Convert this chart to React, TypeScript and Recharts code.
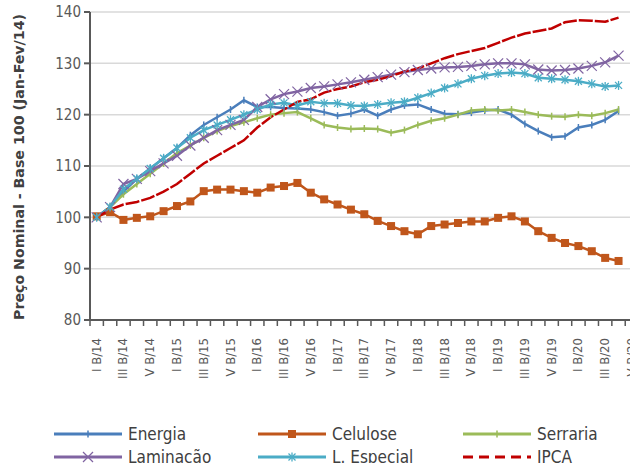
import React from 'react';
import { LineChart, Line, XAxis, YAxis, CartesianGrid } from 'recharts';

// bimestres, jan-fev/14 ... nov-dez/20
const categories = [
  'I B/14', 'II B/14', 'III B/14', 'IV B/14', 'V B/14', 'VI B/14',
  'I B/15', 'II B/15', 'III B/15', 'IV B/15', 'V B/15', 'VI B/15',
  'I B/16', 'II B/16', 'III B/16', 'IV B/16', 'V B/16', 'VI B/16',
  'I B/17', 'II B/17', 'III B/17', 'IV B/17', 'V B/17', 'VI B/17',
  'I B/18', 'II B/18', 'III B/18', 'IV B/18', 'V B/18', 'VI B/18',
  'I B/19', 'II B/19', 'III B/19', 'IV B/19', 'V B/19', 'VI B/19',
  'I B/20', 'II B/20', 'III B/20', 'IV B/20', 'V B/20', 'VI B/20',
];

const energia = [
  100, 102, 105, 107.5, 109.5, 111.5, 113.5, 116, 118, 119.5, 121, 122.8,
  121.5, 121.5, 121.3, 121.2, 121, 120.5, 119.8, 120.2, 121, 119.8, 121, 121.8,
  122, 121, 120.2, 120.1, 120.4, 120.8, 121, 120, 118.2, 116.8, 115.6, 115.8,
  117.5, 118, 119, 120.7,
];
const celulose = [
  100.2, 101, 99.5, 99.9, 100.2, 101.2, 102.2, 103.1, 105.1, 105.4, 105.4, 105.1,
  104.8, 105.8, 106.1, 106.7, 104.8, 103.5, 102.5, 101.5, 100.6, 99.3, 98.3, 97.3,
  96.7, 98.3, 98.6, 98.9, 99.2, 99.2, 99.9, 100.2, 99.2, 97.3, 96, 95,
  94.4, 93.4, 92.1, 91.5,
];
const serraria = [
  100, 102, 104.5, 106.5, 108.5, 110.5, 112.5, 114, 115.5, 116.8, 117.8, 118.5,
  119.3, 120, 120.3, 120.5, 119.3, 118, 117.5, 117.2, 117.3, 117.2, 116.5, 117,
  118, 118.8, 119.3, 120, 120.8, 121, 120.8, 121, 120.5, 120, 119.7, 119.6,
  120, 119.8, 120.3, 121,
];
const laminacao = [
  100, 102, 106.5, 107.5, 109, 110.5, 112, 114, 115.5, 117, 118, 119,
  121.5, 123, 124, 124.5, 125.2, 125.5, 125.9, 126.3, 126.8, 127.3, 127.8, 128.3,
  128.7, 129, 129.2, 129.3, 129.5, 129.8, 130, 130, 129.8, 128.8, 128.6, 128.7,
  129, 129.5, 130.2, 131.5,
];
const especial = [
  100, 102, 105.5, 107.5, 109.5, 111.5, 113.5, 115.5, 117, 118, 119, 120,
  121, 122, 122.3, 121.8, 122.5, 122.2, 122.2, 121.8, 121.7, 122, 122.3, 122.5,
  123.3, 124.2, 125.2, 126, 127, 127.6, 128, 128.2, 128, 127.2, 127, 126.8,
  126.5, 126, 125.5, 125.7,
];
const ipca = [
  100, 101.5, 102.5, 103, 103.8, 105, 106.5, 108.5, 110.5, 112, 113.5, 115,
  117.5, 119.5, 121, 122.5, 123, 124.3, 125, 125.5, 126.3, 126.8, 127.5, 128.4,
  129, 130, 131, 131.8, 132.4, 133, 134, 135, 135.8, 136.3, 136.8, 138,
  138.4, 138.3, 138.1, 138.9,
];

const yTicks = [80, 90, 100, 110, 120, 130, 140];

const data = categories.map((label, i) => ({
  idx: i,
  label,
  energia: energia[i] ?? null,
  celulose: celulose[i] ?? null,
  serraria: serraria[i] ?? null,
  laminacao: laminacao[i] ?? null,
  especial: especial[i] ?? null,
  ipca: ipca[i] ?? null,
}));

// marcas nas divisas das categorias + rótulos a cada 2 bimestres
const xTicks: number[] = [];
for (let i = 0; i <= categories.length; i++) {
  xTicks.push(i - 0.5);
  if (i < categories.length && i % 2 === 0) xTicks.push(i);
}

const C = {
  energia: '#4a7ebb',
  celulose: '#c0561b',
  serraria: '#9bbb59',
  laminacao: '#8064a2',
  especial: '#4bacc6',
  ipca: '#c00000',
  axis: '#595959',
  text: '#404040',
};

const FONT = "'Liberation Sans Narrow', 'DejaVu Sans Condensed', 'Liberation Sans', sans-serif";

const XTick = ({ x, y, payload }: any) => {
  const v = payload.value;
  if (!Number.isInteger(v)) {
    return <line x1={x} x2={x} y1={y} y2={y + 6} stroke={C.axis} strokeWidth={1.5} />;
  }
  const tx = x + 4;
  const ty = y + 18;
  return (
    <text x={tx} y={ty} transform={`rotate(-90 ${tx} ${ty})`} textAnchor="end" fontSize={13} fill={C.axis} fontFamily={FONT}>
      {categories[v]}
    </text>
  );
};

const tickDot = (color: string) => (p: any) => {
  if (p.cy == null || p.value == null) return <g key={`d-${p.index}`} />;
  return <line key={`d-${p.index}`} x1={p.cx} x2={p.cx} y1={p.cy - 3.5} y2={p.cy + 3.5} stroke={color} strokeWidth={1.5} />;
};

const squareDot = (p: any) => {
  if (p.cy == null || p.value == null) return <g key={`d-${p.index}`} />;
  return <rect key={`d-${p.index}`} x={p.cx - 4} y={p.cy - 4} width={8} height={8} fill={C.celulose} />;
};

const crossDot = (p: any) => {
  if (p.cy == null || p.value == null) return <g key={`d-${p.index}`} />;
  const s = 5;
  return (
    <g key={`d-${p.index}`} stroke={C.laminacao} strokeWidth={1.2}>
      <line x1={p.cx - s} y1={p.cy - s} x2={p.cx + s} y2={p.cy + s} />
      <line x1={p.cx - s} y1={p.cy + s} x2={p.cx + s} y2={p.cy - s} />
    </g>
  );
};

const starDot = (p: any) => {
  if (p.cy == null || p.value == null) return <g key={`d-${p.index}`} />;
  const s = 3.5;
  return (
    <g key={`d-${p.index}`} stroke={C.especial} strokeWidth={1.3}>
      <line x1={p.cx - s} y1={p.cy - s} x2={p.cx + s} y2={p.cy + s} />
      <line x1={p.cx - s} y1={p.cy + s} x2={p.cx + s} y2={p.cy - s} />
      <line x1={p.cx} y1={p.cy - s - 1} x2={p.cx} y2={p.cy + s + 1} />
    </g>
  );
};

const legendItems = [
  { name: 'Energia', color: C.energia, x: 54, y: 434, mark: 'tick' },
  { name: 'Celulose', color: C.celulose, x: 258, y: 434, mark: 'square' },
  { name: 'Serraria', color: C.serraria, x: 463, y: 434, mark: 'tick' },
  { name: 'Laminacão', color: C.laminacao, x: 54, y: 457, mark: 'cross' },
  { name: 'L. Especial', color: C.especial, x: 258, y: 457, mark: 'star' },
  { name: 'IPCA', color: C.ipca, x: 463, y: 457, mark: 'dash' },
];

export default function App() {
  return (
    <div style={{ position: 'fixed', left: 0, top: 0, width: 630, height: 463, overflow: 'hidden', background: '#fff' }}>
      <div style={{ position: 'absolute', left: 0, top: 0 }}>
        <LineChart width={652} height={400} data={data} margin={{ top: 12, right: 0, bottom: 0, left: 30 }}>
          <CartesianGrid vertical={false} stroke="#d9d9d9" strokeWidth={1.5} />
          <XAxis
            dataKey="idx"
            type="number"
            domain={[-0.5, categories.length - 0.5]}
            ticks={xTicks}
            interval={0}
            height={80}
            tickLine={false}
            tickSize={0}
            tickMargin={0}
            axisLine={{ stroke: C.axis, strokeWidth: 2 }}
            tick={<XTick />}
          />
          <YAxis
            type="number"
            domain={[80, 140]}
            ticks={yTicks}
            interval={0}
            width={60}
            tickSize={6}
            tickMargin={3}
            axisLine={{ stroke: C.axis, strokeWidth: 2 }}
            tickLine={{ stroke: C.axis, strokeWidth: 2 }}
            tick={{ fill: C.axis, fontSize: 15, fontFamily: FONT }}
          />
          <Line dataKey="energia" stroke={C.energia} strokeWidth={2.5} dot={tickDot(C.energia)} isAnimationActive={false} />
          <Line dataKey="celulose" stroke={C.celulose} strokeWidth={2.5} dot={squareDot} isAnimationActive={false} />
          <Line dataKey="serraria" stroke={C.serraria} strokeWidth={2.5} dot={tickDot(C.serraria)} isAnimationActive={false} />
          <Line dataKey="laminacao" stroke={C.laminacao} strokeWidth={2.5} dot={crossDot} isAnimationActive={false} />
          <Line dataKey="especial" stroke={C.especial} strokeWidth={2.5} dot={starDot} isAnimationActive={false} />
          <Line dataKey="ipca" stroke={C.ipca} strokeWidth={2.5} strokeDasharray="14 2" dot={false} isAnimationActive={false} />
        </LineChart>
      </div>
      <svg width={630} height={463} style={{ position: 'absolute', left: 0, top: 0, pointerEvents: 'none' }}>
        <text
          x={24}
          y={167}
          transform="rotate(-90 24 167)"
          textAnchor="middle"
          fontSize={14}
          fontWeight="bold"
          fill={C.text}
          fontFamily={FONT}
          textLength={306}
          lengthAdjust="spacingAndGlyphs"
        >
          Preço Nominal - Base 100 (Jan-Fev/14)
        </text>
        {legendItems.map((it) => {
          const cx = it.x + 34;
          return (
            <g key={it.name}>
              {it.mark === 'dash' ? (
                <line x1={it.x} x2={it.x + 68} y1={it.y} y2={it.y} stroke={it.color} strokeWidth={3} strokeDasharray="10 6" />
              ) : (
                <line x1={it.x} x2={it.x + 68} y1={it.y} y2={it.y} stroke={it.color} strokeWidth={3} />
              )}
              {it.mark === 'tick' && <line x1={cx} x2={cx} y1={it.y - 3.5} y2={it.y + 3.5} stroke={it.color} strokeWidth={1.5} />}
              {it.mark === 'square' && <rect x={cx - 4} y={it.y - 4} width={8} height={8} fill={it.color} />}
              {it.mark === 'cross' && (
                <g stroke={it.color} strokeWidth={1.2}>
                  <line x1={cx - 5} y1={it.y - 5} x2={cx + 5} y2={it.y + 5} />
                  <line x1={cx - 5} y1={it.y + 5} x2={cx + 5} y2={it.y - 5} />
                </g>
              )}
              {it.mark === 'star' && (
                <g stroke={it.color} strokeWidth={1.3}>
                  <line x1={cx - 3.5} y1={it.y - 3.5} x2={cx + 3.5} y2={it.y + 3.5} />
                  <line x1={cx - 3.5} y1={it.y + 3.5} x2={cx + 3.5} y2={it.y - 3.5} />
                  <line x1={cx} y1={it.y - 4.5} x2={cx} y2={it.y + 4.5} />
                </g>
              )}
              <text x={it.x + 74} y={it.y + 6} fontSize={17} fill={C.text} fontFamily={FONT}>
                {it.name}
              </text>
            </g>
          );
        })}
      </svg>
    </div>
  );
}
